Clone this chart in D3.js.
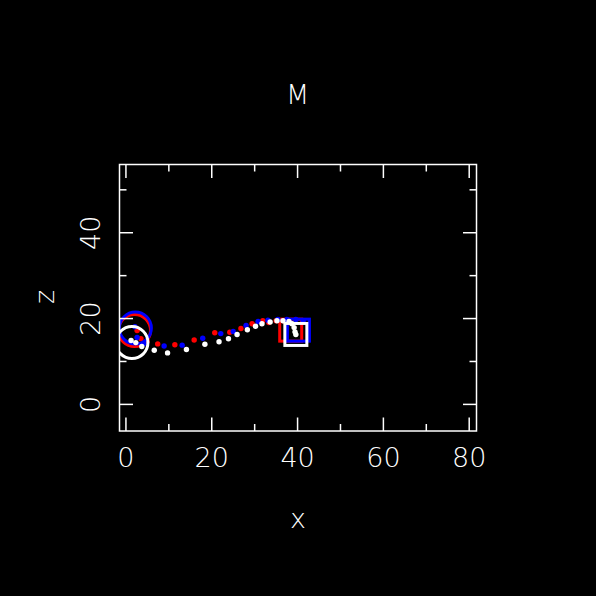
<!DOCTYPE html>
<html>
<head>
<meta charset="utf-8">
<script src="https://cdn.jsdelivr.net/npm/d3@7"></script>
<style>
html,body{margin:0;padding:0;background:#000;}
svg{display:block;}
text{font-family:"DejaVu Sans ExtraLight","DejaVu Sans",sans-serif;font-weight:200;fill:#fff;}
</style>
</head>
<body>
<script>
const title = "M";
const xLabel = "x";
const yLabel = "z";
const xMajorTicks = [0, 20, 40, 60, 80];
const xMinorTicks = [10, 30, 50, 70];
const yMajorTicks = [0, 20, 40];
const yMinorTicks = [10, 30, 50];
const xDomain = [-1.5, 81.7];
const yDomain = [-6.2, 55.9];

const seriesNames = ["red", "blue", "white"];
const redX = [2.6, 3.5, 4.9, 7.4, 11.4, 15.9, 20.7, 24.2, 26.8, 29.4, 31.9, 33.3, 35.0, 36.6, 38.0];
const redZ = [17.2, 15.3, 14.7, 14.1, 13.9, 15.0, 16.7, 16.8, 17.7, 18.8, 19.5, 19.1, 19.5, 19.5, 19.1];
const blueX = [2.1, 2.6, 4.2, 8.9, 13.1, 17.9, 22.1, 25.0, 28.0, 30.8, 33.1, 35.4, 37.5, 39.6, 41.3];
const blueZ = [18.1, 15.6, 14.2, 13.6, 13.8, 15.4, 16.5, 17.0, 18.4, 19.3, 19.6, 19.8, 19.8, 19.8, 19.5];
const whiteX = [1.2, 2.3, 3.7, 6.6, 9.7, 14.1, 18.4, 21.7, 23.9, 25.9, 28.3, 30.2, 31.7, 33.6, 35.2, 36.6, 38.0, 38.7, 39.2, 39.4, 39.6];
const whiteZ = [14.9, 14.4, 13.5, 12.6, 12.0, 12.8, 14.0, 14.6, 15.3, 16.3, 17.4, 18.2, 18.8, 19.2, 19.5, 19.5, 19.3, 18.8, 17.9, 16.9, 16.3];
const startX = [2.0, 2.2, 1.4];
const startZ = [17.2, 17.8, 14.4];
const endX = [38.4, 40.2, 39.6];
const endZ = [17.3, 17.3, 16.3];
const colors = ["#ff0000", "#0000ff", "#ffffff"];

const W = 596, H = 596;
const svg = d3.select("body").append("svg").attr("width", W).attr("height", H)
  .style("background", "#000");
svg.append("rect").attr("width", W).attr("height", H).attr("fill", "#000");

const pL = 119.5, pR = 476.5, pT = 164.5, pB = 431;
const x = d3.scaleLinear().domain(xDomain).range([pL, pR]);
const y = d3.scaleLinear().domain(yDomain).range([pB, pT]);

const seriesX = [redX, blueX, whiteX];
const seriesZ = [redZ, blueZ, whiteZ];

svg.append("defs").append("clipPath").attr("id", "clip")
  .append("rect").attr("x", pL).attr("y", pT).attr("width", pR - pL).attr("height", pB - pT);
const pg = svg.append("g").attr("clip-path", "url(#clip)");

seriesNames.forEach((name, i) => {
  const g = pg.append("g");
  const pts = seriesX[i].map((v, k) => [v, seriesZ[i][k]]);
  g.selectAll("circle.dot").data(pts).enter().append("circle")
    .attr("class", "dot")
    .attr("cx", d => x(d[0])).attr("cy", d => y(d[1])).attr("r", 2.7)
    .attr("fill", colors[i]);
  g.append("circle")
    .attr("cx", x(startX[i])).attr("cy", y(startZ[i])).attr("r", 16)
    .attr("fill", "none").attr("stroke", colors[i]).attr("stroke-width", 3);
  const s = 22;
  g.append("rect")
    .attr("x", x(endX[i]) - s / 2).attr("y", y(endZ[i]) - s / 2)
    .attr("width", s).attr("height", s)
    .attr("fill", "none").attr("stroke", colors[i]).attr("stroke-width", 3);
});

const ax = svg.append("g").attr("stroke", "#fff").attr("stroke-width", 1.5).attr("fill", "none");
ax.append("rect").attr("x", pL).attr("y", pT).attr("width", pR - pL).attr("height", pB - pT);
const maj = 13.5, mnr = 7;
function vt(v, len) {
  ax.append("line").attr("x1", x(v)).attr("x2", x(v)).attr("y1", pB).attr("y2", pB - len);
  ax.append("line").attr("x1", x(v)).attr("x2", x(v)).attr("y1", pT).attr("y2", pT + len);
}
function ht(v, len) {
  ax.append("line").attr("y1", y(v)).attr("y2", y(v)).attr("x1", pL).attr("x2", pL + len);
  ax.append("line").attr("y1", y(v)).attr("y2", y(v)).attr("x1", pR).attr("x2", pR - len);
}
xMajorTicks.forEach(v => vt(v, maj));
xMinorTicks.forEach(v => vt(v, mnr));
yMajorTicks.forEach(v => ht(v, maj));
yMinorTicks.forEach(v => ht(v, mnr));

const fs = 27;
svg.append("g").selectAll("text").data(xMajorTicks).enter().append("text")
  .attr("x", d => x(d)).attr("y", 467).attr("text-anchor", "middle")
  .style("font-size", fs + "px").text(d => d);
svg.append("g").selectAll("text").data(yMajorTicks).enter().append("text")
  .attr("transform", d => `translate(99.5,${y(d)}) rotate(-90)`)
  .attr("text-anchor", "middle").style("font-size", fs + "px").text(d => d);
svg.append("text").attr("x", 297.7).attr("y", 104.3).attr("text-anchor", "middle")
  .style("font-size", fs + "px").text(title);
svg.append("text").attr("x", 298).attr("y", 527.7).attr("text-anchor", "middle")
  .style("font-size", fs + "px").text(xLabel);
svg.append("text").attr("transform", "translate(54.3,297) rotate(-90)")
  .attr("text-anchor", "middle").style("font-size", fs + "px").text(yLabel);
</script>
</body>
</html>
